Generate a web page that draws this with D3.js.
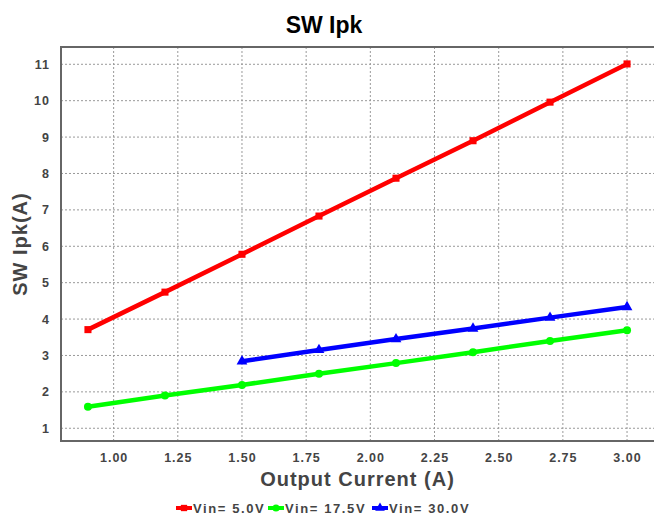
<!DOCTYPE html>
<html>
<head>
<meta charset="utf-8">
<script src="https://cdn.jsdelivr.net/npm/d3@7"></script>
<style>
  body { margin: 0; background: #fff; }
  svg { display: block; font-family: "Liberation Sans", Arial, sans-serif; }
</style>
</head>
<body>
<svg id="chart" width="654" height="518"></svg>
<script>
// --- data ---
const currents = [0.9, 1.2, 1.5, 1.8, 2.1, 2.4, 2.7, 3.0];
const ipk5v = [3.71, 4.74, 5.78, 6.83, 7.87, 8.90, 9.96, 11.01];
const ipk17v = [1.59, 1.90, 2.19, 2.50, 2.79, 3.09, 3.40, 3.69];
const currents30 = [1.5, 1.8, 2.1, 2.4, 2.7, 3.0];
const ipk30v = [2.84, 3.15, 3.45, 3.74, 4.04, 4.33];
const xTicks = [1.0, 1.25, 1.5, 1.75, 2.0, 2.25, 2.5, 2.75, 3.0];
const yTicks = [1, 2, 3, 4, 5, 6, 7, 8, 9, 10, 11];

const series = [
  { name: 'Vin= 5.0V', color: '#ff0000', marker: 'square', xs: currents, ys: ipk5v },
  { name: 'Vin= 17.5V', color: '#00ff00', marker: 'circle', xs: currents, ys: ipk17v },
  { name: 'Vin= 30.0V', color: '#0000ff', marker: 'triangle', xs: currents30, ys: ipk30v },
];

// --- layout ---
const width = 654, height = 518;
const margin = { top: 47, right: 0, bottom: 77, left: 61 };
const svg = d3.select('#chart');

const x = d3.scaleLinear().domain([0.795, 3.105]).range([margin.left, width - margin.right]);
const y = d3.scaleLinear().domain([0.65, 11.475]).range([height - margin.bottom, margin.top]);

const axisColor = '#666';
const textColor = '#444';

// grid
const grid = svg.append('g');
grid.selectAll('.gx').data(xTicks).join('line')
  .attr('x1', d => x(d)).attr('x2', d => x(d))
  .attr('y1', margin.top).attr('y2', height - margin.bottom)
  .attr('stroke', '#999').attr('stroke-width', 1).attr('stroke-dasharray', '2,2');
grid.selectAll('.gy').data(yTicks).join('line')
  .attr('x1', margin.left).attr('x2', width - margin.right)
  .attr('y1', d => y(d)).attr('y2', d => y(d))
  .attr('stroke', '#999').attr('stroke-width', 1).attr('stroke-dasharray', '2,2');

// axes
const xAxis = d3.axisBottom(x).tickValues(xTicks).tickFormat(d3.format('.2f')).tickSize(0).tickPadding(12);
const gx = svg.append('g').attr('transform', `translate(0,${height - margin.bottom})`).call(xAxis);
const yAxis = d3.axisLeft(y).tickValues(yTicks).tickFormat(d3.format('d')).tickSize(0).tickPadding(11);
const gy = svg.append('g').attr('transform', `translate(${margin.left},0)`).call(yAxis);
[gx, gy].forEach(g => {
  g.select('.domain').remove();
  g.selectAll('text')
    .attr('fill', textColor)
    .style('font-size', '12.5px')
    .style('font-weight', 'bold')
    .style('letter-spacing', '1px');
});

// frame: top, left, bottom
svg.append('path')
  .attr('d', `M${width},${margin.top}H${margin.left}V${height - margin.bottom}H${width}`)
  .attr('fill', 'none').attr('stroke', axisColor).attr('stroke-width', 2);

// lines
const line = d3.line().x(d => x(d[0])).y(d => y(d[1]));
const symbols = { square: d3.symbolSquare, circle: d3.symbolCircle, triangle: d3.symbolTriangle };

series.forEach(s => {
  const pts = s.xs.map((v, i) => [v, s.ys[i]]);
  svg.append('path').datum(pts)
    .attr('d', line)
    .attr('fill', 'none').attr('stroke', s.color).attr('stroke-width', 4.5);
  svg.selectAll(null).data(pts).join('path')
    .attr('transform', d => `translate(${x(d[0])},${y(d[1])})`)
    .attr('d', d3.symbol(symbols[s.marker], 50))
    .attr('fill', s.color);
});

// title
svg.append('text')
  .attr('x', 324).attr('y', 33)
  .attr('text-anchor', 'middle')
  .style('font-size', '23px').style('font-weight', 'bold')
  .attr('fill', '#000')
  .text('SW Ipk');

// axis titles
svg.append('text')
  .attr('x', (margin.left + width - margin.right) / 2).attr('y', 486)
  .attr('text-anchor', 'middle')
  .style('font-size', '20px').style('font-weight', 'bold').style('letter-spacing', '1px')
  .attr('fill', textColor)
  .text('Output Current (A)');

svg.append('text')
  .attr('transform', `translate(27,${(margin.top + height - margin.bottom) / 2}) rotate(-90)`)
  .attr('text-anchor', 'middle')
  .style('font-size', '20px').style('font-weight', 'bold').style('letter-spacing', '1px')
  .attr('fill', textColor)
  .text('SW Ipk(A)');

// legend
const legendX = [176, 268, 372];
const legend = svg.append('g');
series.forEach((s, i) => {
  const g = legend.append('g').attr('transform', `translate(${legendX[i]},508)`);
  g.append('line').attr('x1', 0).attr('x2', 16).attr('y1', 0).attr('y2', 0)
    .attr('stroke', s.color).attr('stroke-width', 4);
  g.append('path').attr('transform', 'translate(8,0)')
    .attr('d', d3.symbol(symbols[s.marker], 40)).attr('fill', s.color);
  g.append('text').attr('x', 17).attr('y', 5)
    .style('font-size', '13px').style('font-weight', 'bold').style('letter-spacing', '1.6px')
    .attr('fill', textColor)
    .text(s.name);
});
</script>
</body>
</html>
